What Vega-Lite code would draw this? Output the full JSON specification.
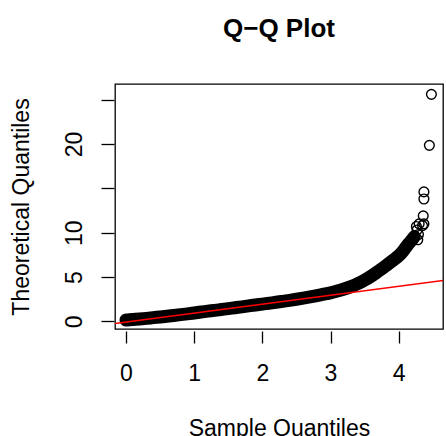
{
  "$schema": "https://vega.github.io/schema/vega-lite/v6.json",
  "autosize": "none",
  "padding": {"left": 115, "top": 84, "right": 3, "bottom": 107},
  "width": 328,
  "height": 245,
  "config": {
    "font": "Liberation Sans",
    "view": {"stroke": "black", "strokeWidth": 1.3},
    "axis": {"grid": false, "domain": false, "tickColor": "black", "tickWidth": 1.3, "labelColor": "black", "titleColor": "black", "labelFontSize": 23, "titleFontSize": 23, "titleFontWeight": "normal", "labelFont": "Liberation Sans", "titleFont": "Liberation Sans"}
  },
  "title": {"text": "Q−Q Plot", "fontSize": 26, "fontWeight": "bold", "font": "Liberation Sans", "anchor": "middle", "frame": "group", "baseline": "alphabetic", "offset": 21, "color": "black"},
  "datasets": {
    "qq": [
      {"sample": 0.00, "theoretical": 0.15},
      {"sample": 0.05, "theoretical": 0.18},
      {"sample": 0.10, "theoretical": 0.21},
      {"sample": 0.20, "theoretical": 0.27},
      {"sample": 0.30, "theoretical": 0.34},
      {"sample": 0.40, "theoretical": 0.42},
      {"sample": 0.50, "theoretical": 0.50},
      {"sample": 0.60, "theoretical": 0.58},
      {"sample": 0.70, "theoretical": 0.67},
      {"sample": 0.80, "theoretical": 0.76},
      {"sample": 0.90, "theoretical": 0.85},
      {"sample": 1.00, "theoretical": 0.95},
      {"sample": 1.10, "theoretical": 1.05},
      {"sample": 1.20, "theoretical": 1.15},
      {"sample": 1.30, "theoretical": 1.24},
      {"sample": 1.40, "theoretical": 1.34},
      {"sample": 1.50, "theoretical": 1.44},
      {"sample": 1.60, "theoretical": 1.54},
      {"sample": 1.70, "theoretical": 1.64},
      {"sample": 1.80, "theoretical": 1.75},
      {"sample": 1.90, "theoretical": 1.85},
      {"sample": 2.00, "theoretical": 1.95},
      {"sample": 2.10, "theoretical": 2.05},
      {"sample": 2.20, "theoretical": 2.15},
      {"sample": 2.30, "theoretical": 2.26},
      {"sample": 2.40, "theoretical": 2.37},
      {"sample": 2.50, "theoretical": 2.49},
      {"sample": 2.60, "theoretical": 2.62},
      {"sample": 2.70, "theoretical": 2.76},
      {"sample": 2.80, "theoretical": 2.91},
      {"sample": 2.90, "theoretical": 3.06},
      {"sample": 3.00, "theoretical": 3.22},
      {"sample": 3.10, "theoretical": 3.42},
      {"sample": 3.20, "theoretical": 3.65},
      {"sample": 3.30, "theoretical": 3.92},
      {"sample": 3.40, "theoretical": 4.25},
      {"sample": 3.50, "theoretical": 4.65},
      {"sample": 3.60, "theoretical": 5.12},
      {"sample": 3.70, "theoretical": 5.65},
      {"sample": 3.80, "theoretical": 6.20},
      {"sample": 3.90, "theoretical": 6.80},
      {"sample": 4.00, "theoretical": 7.40},
      {"sample": 4.05, "theoretical": 7.80},
      {"sample": 4.10, "theoretical": 8.30},
      {"sample": 4.15, "theoretical": 8.80},
      {"sample": 4.20, "theoretical": 9.25},
      {"sample": 4.23, "theoretical": 9.55},
      {"sample": 4.28, "theoretical": 9.2},
      {"sample": 4.29, "theoretical": 9.8},
      {"sample": 4.27, "theoretical": 10.3},
      {"sample": 4.26, "theoretical": 10.7},
      {"sample": 4.30, "theoretical": 11.0},
      {"sample": 4.35, "theoretical": 10.8},
      {"sample": 4.37, "theoretical": 11.0},
      {"sample": 4.36, "theoretical": 11.9},
      {"sample": 4.37, "theoretical": 13.8},
      {"sample": 4.37, "theoretical": 14.6},
      {"sample": 4.45, "theoretical": 19.85},
      {"sample": 4.48, "theoretical": 25.6}
    ],
    "qqline": [
      {"sample": -0.16, "theoretical": -0.23},
      {"sample": 4.65, "theoretical": 4.62}
    ]
  },
  "encoding": {
    "x": {"field": "sample", "type": "quantitative", "scale": {"domain": [-0.161, 4.65], "nice": false, "zero": false},
      "axis": {"title": "Sample Quantiles", "values": [0, 1, 2, 3, 4], "offset": 2, "tickSize": 12, "labelPadding": 19, "titleBaseline": "alphabetic", "titleY": 104}},
    "y": {"field": "theoretical", "type": "quantitative", "scale": {"domain": [-0.86, 26.77], "nice": false, "zero": false},
      "axis": {"title": "Theoretical Quantiles", "values": [0, 5, 10, 15, 20, 25], "labelExpr": "datum.value == 15 || datum.value == 25 ? '' : datum.label", "offset": 1, "tickSize": 13, "labelAngle": -90, "labelAlign": "center", "labelBaseline": "bottom", "labelPadding": 14.5, "titleBaseline": "alphabetic", "titleX": -86}}
  },
  "layer": [
    {
      "data": {"name": "qq"},
      "transform": [{"filter": "datum.theoretical < 9.6 && datum.sample <= 4.23"}],
      "mark": {"type": "line", "color": "black", "strokeWidth": 13, "strokeCap": "round", "strokeJoin": "round", "interpolate": "monotone", "clip": true}
    },
    {
      "data": {"name": "qq"},
      "mark": {"type": "point", "shape": "circle", "filled": false, "color": "black", "size": 95, "strokeWidth": 1.4, "opacity": 1, "clip": true}
    },
    {
      "data": {"name": "qqline"},
      "mark": {"type": "line", "color": "#FF0000", "strokeWidth": 1.5, "clip": true}
    }
  ]
}
